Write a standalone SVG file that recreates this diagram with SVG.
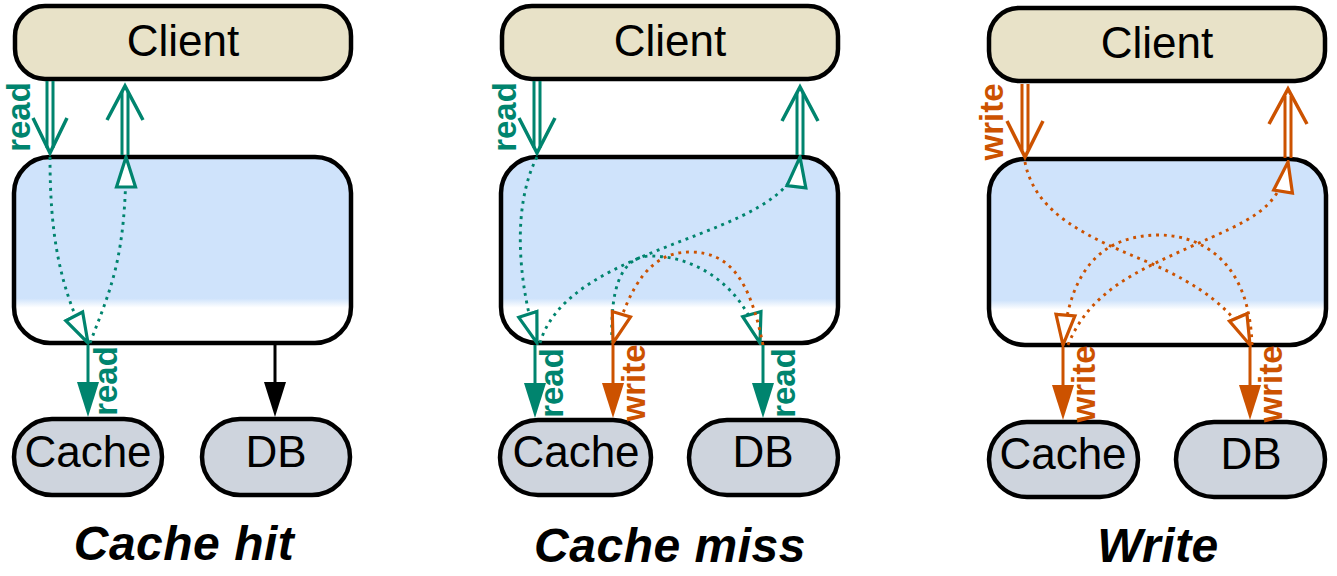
<svg xmlns="http://www.w3.org/2000/svg" width="1337" height="576" viewBox="0 0 1337 576">
<style>
.node{stroke:#000;stroke-width:4.5}
.client{fill:#e8e2c8}
.box{fill:url(#boxfill)}
.store{fill:#ced4dd}
.lbl{font-family:"Liberation Sans",Arial,sans-serif;font-size:44px;text-anchor:middle;fill:#000}
.title{font-family:"Liberation Sans",Arial,sans-serif;font-size:48px;font-weight:bold;font-style:italic;letter-spacing:0.5px;text-anchor:middle;fill:#000}
.t{stroke:#00846e}
.o{stroke:#cc5200}
.k{stroke:#000}
.dot{fill:none;stroke-width:2.9;stroke-dasharray:2.9 4.8}
.sol{fill:none;stroke-width:3}
.chev{fill:none;stroke-width:3.5;stroke-linejoin:miter}
.ft{fill:#00846e}
.fo{fill:#cc5200}
.fk{fill:#000}
.elbl{font-family:"Liberation Sans",Arial,sans-serif;font-size:33px;font-weight:bold;text-anchor:middle}
</style>
<defs>
<linearGradient id="boxfill" x1="0" y1="0" x2="0" y2="1">
<stop offset="0" stop-color="#cfe3fb"/>
<stop offset="0.76" stop-color="#cfe3fb"/>
<stop offset="0.81" stop-color="#ffffff"/>
<stop offset="1" stop-color="#ffffff"/>
</linearGradient>
<marker id="ht" viewBox="0 0 34 24" refX="32" refY="12" markerWidth="34" markerHeight="24" markerUnits="userSpaceOnUse" orient="auto">
<path d="M2,2.5 L32,12 L2,21.5 Z" fill="#fff" stroke="#00846e" stroke-width="3.2"/>
</marker>
<marker id="ho" viewBox="0 0 34 24" refX="32" refY="12" markerWidth="34" markerHeight="24" markerUnits="userSpaceOnUse" orient="auto">
<path d="M2,2.5 L32,12 L2,21.5 Z" fill="#fff" stroke="#cc5200" stroke-width="3.2"/>
</marker>
</defs>

<!-- Panel 1: Cache hit -->
<g id="client1"><rect class="node client" x="15" y="6" width="336" height="73" rx="30"/><text class="lbl" x="183" y="56">Client</text></g>
<g id="app1"><rect class="node box" x="14" y="157" width="337" height="186" rx="36"/></g>
<g id="cache1"><rect class="node store" x="14" y="419" width="148" height="76" rx="38"/><text class="lbl" x="88" y="467">Cache</text></g>
<g id="db1"><rect class="node store" x="202" y="419" width="148" height="76" rx="38"/><text class="lbl" x="276" y="467">DB</text></g>
<text id="title1" class="title" x="184" y="560">Cache hit</text>

<!-- Panel 2: Cache miss -->
<g id="client2"><rect class="node client" x="502" y="6" width="336" height="73" rx="30"/><text class="lbl" x="670" y="56">Client</text></g>
<g id="app2"><rect class="node box" x="501" y="157" width="337" height="186" rx="36"/></g>
<g id="cache2"><rect class="node store" x="500" y="420" width="151" height="75" rx="38"/><text class="lbl" x="576" y="467">Cache</text></g>
<g id="db2"><rect class="node store" x="689" y="420" width="149" height="75" rx="38"/><text class="lbl" x="763" y="467">DB</text></g>
<text id="title2" class="title" x="670" y="562">Cache miss</text>

<!-- Panel 3: Write -->
<g id="client3"><rect class="node client" x="989" y="8" width="336" height="73" rx="30"/><text class="lbl" x="1157" y="58">Client</text></g>
<g id="app3"><rect class="node box" x="989" y="159" width="337" height="186" rx="36"/></g>
<g id="cache3"><rect class="node store" x="989" y="422" width="149" height="75" rx="38"/><text class="lbl" x="1063" y="469">Cache</text></g>
<g id="db3"><rect class="node store" x="1176" y="422" width="149" height="75" rx="38"/><text class="lbl" x="1251" y="469">DB</text></g>
<text id="title3" class="title" x="1158" y="562">Write</text>

<g id="connectors">
<!-- Panel 1 -->
<path class="sol t" d="M47,81 V148 M53,81 V148"/>
<path class="chev t" d="M33,118 L50,153 L67,118"/>
<path class="sol t" d="M122,155 V92 M128,155 V92"/>
<path class="chev t" d="M107,120 L125,86 L143,120"/>
<path class="dot t" d="M50,157 C50,230 58,285 88,343" marker-end="url(#ht)"/>
<path class="dot t" d="M90,343 C110,290 126,260 126,157" marker-end="url(#ht)"/>
<path class="sol t" d="M88,345 V386"/>
<polygon class="ft" points="77,382 99,382 88,417"/>
<path class="sol k" d="M275,345 V386"/>
<polygon class="fk" points="264,382 286,382 275,417"/>

<!-- Panel 2 -->
<path class="sol t" d="M534,81 V148 M540,81 V148"/>
<path class="chev t" d="M519,118 L537,153 L555,118"/>
<path class="sol t" d="M797,155 V93 M803,155 V93"/>
<path class="chev t" d="M782,121 L800,87 L818,121"/>
<path class="dot t" d="M537,157 C510,210 520,290 537,343" marker-end="url(#ht)"/>
<path class="dot t" d="M540,343 C570,240 790,240 800,157" marker-end="url(#ht)"/>
<path class="dot t" d="M612,343 C610,290 620,257 650,256 C700,256 745,290 760,343" marker-end="url(#ht)"/>
<path class="dot o" d="M763,345 C750,280 730,252 690,252 C650,252 630,285 613,343" marker-end="url(#ho)"/>
<path class="sol t" d="M535,345 V387"/>
<polygon class="ft" points="524,383 546,383 535,418"/>
<path class="sol o" d="M613,345 V387"/>
<polygon class="fo" points="602,383 624,383 613,418"/>
<path class="sol t" d="M763,345 V387"/>
<polygon class="ft" points="752,383 774,383 763,418"/>

<!-- Panel 3 -->
<path class="sol o" d="M1022,84 V150 M1028,84 V150"/>
<path class="chev o" d="M1007,121 L1025,157 L1043,121"/>
<path class="sol o" d="M1285,158 V96 M1291,158 V96"/>
<path class="chev o" d="M1269,124 L1288,89 L1307,124"/>
<path class="dot o" d="M1025,162 C1035,215 1090,238 1150,263 C1200,285 1235,310 1250,345" marker-end="url(#ho)"/>
<path class="dot o" d="M1252,345 C1250,270 1210,236 1160,235 C1110,235 1070,260 1063,345" marker-end="url(#ho)"/>
<path class="dot o" d="M1068,345 C1090,290 1140,270 1190,247 C1250,220 1280,210 1288,162" marker-end="url(#ho)"/>
<path class="sol o" d="M1063,347 V389"/>
<polygon class="fo" points="1052,385 1074,385 1063,420"/>
<path class="sol o" d="M1250,347 V389"/>
<polygon class="fo" points="1239,385 1261,385 1250,420"/>

<!-- edge labels -->
<text class="elbl ft" transform="translate(30,117) rotate(-90)">read</text>
<text class="elbl ft" transform="translate(117,381) rotate(-90)">read</text>
<text class="elbl ft" transform="translate(516,117) rotate(-90)">read</text>
<text class="elbl ft" transform="translate(563,383) rotate(-90)">read</text>
<text class="elbl fo" transform="translate(645,383) rotate(-90)">write</text>
<text class="elbl ft" transform="translate(795,383) rotate(-90)">read</text>
<text class="elbl fo" transform="translate(1003,122) rotate(-90)">write</text>
<text class="elbl fo" transform="translate(1095,384) rotate(-90)">write</text>
<text class="elbl fo" transform="translate(1282,384) rotate(-90)">write</text>
</g>
</svg>
